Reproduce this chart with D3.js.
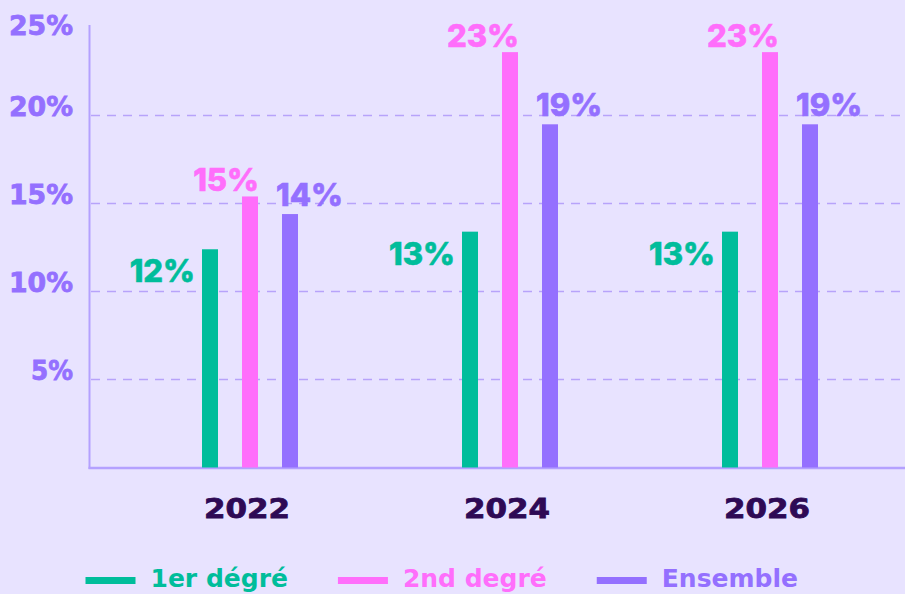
<!DOCTYPE html>
<html>
<head>
<meta charset="utf-8">
<script src="https://cdn.jsdelivr.net/npm/d3@7"></script>
<style>
  html, body { margin: 0; padding: 0; background: #e8e3ff; }
  svg { display: block; }
</style>
</head>
<body>
<div id="chart"></div>
<script>
// data
const years = ["2022", "2024", "2026"];
const series = ["1er dégré", "2nd degré", "Ensemble"];
const colors = ["#00bd9b", "#ff6efb", "#9470ff"];
const firstDegree = [12.4, 13.4, 13.4];
const secondDegree = [15.4, 23.6, 23.6];
const ensemble = [14.4, 19.5, 19.5];
const firstLabels = ["12%", "13%", "13%"];
const secondLabels = ["15%", "23%", "23%"];
const ensembleLabels = ["14%", "19%", "19%"];
const yTicks = [5, 10, 15, 20, 25];

const width = 905, height = 594;
const barWidth = 16;

let svg = d3.select("#chart").append("svg")
            .attr("width", width)
            .attr("height", height);

svg.append("rect")
   .attr("width", width)
   .attr("height", height)
   .attr("fill", "#e8e3ff");

let yScale = d3.scaleLinear()
               .domain([0, 25])
               .range([467.5, 27.5]);

let xScale = d3.scaleBand()
               .domain(years)
               .range([120, 900]);

let inner = d3.scalePoint()
              .domain(series)
              .range([-40, 40]);

let color = d3.scaleOrdinal().domain(series).range(colors);

// gridlines (no line at 25%)
svg.append("g")
   .selectAll("line")
   .data(yTicks.filter(d => d < 25))
   .enter()
   .append("line")
   .attr("x1", 91)
   .attr("x2", width)
   .attr("y1", d => yScale(d))
   .attr("y2", d => yScale(d))
   .attr("stroke", "#b7a3fa")
   .attr("stroke-width", 1.5)
   .attr("stroke-dasharray", "9,7");

// y axis line + baseline
svg.append("line")
   .attr("x1", 89.5).attr("x2", 89.5)
   .attr("y1", 25).attr("y2", 469)
   .attr("stroke", "#b4a1ff")
   .attr("stroke-width", 2);

svg.append("line")
   .attr("x1", 88.5).attr("x2", width)
   .attr("y1", yScale(0) + 0.5).attr("y2", yScale(0) + 0.5)
   .attr("stroke", "#b4a1ff")
   .attr("stroke-width", 2.5);

// y tick labels
svg.append("g")
   .selectAll("text")
   .data(yTicks)
   .enter()
   .append("text")
   .attr("x", 73)
   .attr("y", d => d === 25 ? yScale(d) + 7 : yScale(d))
   .attr("text-anchor", "end")
   .attr("fill", "#9470ff")
   .attr("stroke", "#9470ff")
   .attr("stroke-width", 0.8)
   .style("font-family", "'DejaVu Sans', sans-serif")
   .style("font-weight", 700)
   .style("font-size", "27px")
   .attr("textLength", d => d < 10 ? 42 : 64)
   .attr("lengthAdjust", "spacingAndGlyphs")
   .text(d => d + "%");

// bars
let rows = [];
years.forEach(function (y, i) {
    rows.push({year: y, key: series[0], val: firstDegree[i], label: firstLabels[i]});
    rows.push({year: y, key: series[1], val: secondDegree[i], label: secondLabels[i]});
    rows.push({year: y, key: series[2], val: ensemble[i], label: ensembleLabels[i]});
});

let cx = d => xScale(d.year) + xScale.bandwidth() / 2 + inner(d.key);

svg.append("g")
   .selectAll("rect")
   .data(rows)
   .enter()
   .append("rect")
   .attr("x", d => cx(d) - barWidth / 2)
   .attr("y", d => yScale(d.val))
   .attr("width", barWidth)
   .attr("height", d => yScale(0) - yScale(d.val))
   .attr("fill", d => color(d.key));

// value labels
svg.append("g")
   .selectAll("text")
   .data(rows)
   .enter()
   .append("text")
   .attr("x", function (d) {
       if (d.key === series[0]) return cx(d) - barWidth / 2 - 7;
       if (d.key === series[1]) return cx(d) + barWidth / 2 + 1;
       return cx(d) - barWidth / 2 - 6;
   })
   .attr("y", function (d) {
       if (d.key === series[0]) return yScale(d.val) + 33;
       if (d.key === series[1]) return yScale(d.val) - 5;
       return yScale(d.val) - 8;
   })
   .attr("text-anchor", d => d.key === series[2] ? "start" : "end")
   .attr("fill", d => color(d.key))
   .attr("stroke", d => color(d.key))
   .attr("stroke-width", 0.6)
   .style("font-family", "Inter, sans-serif")
   .style("font-weight", 800)
   .style("font-size", "31px")
   .text(d => d.label);

// year labels
svg.append("g")
   .selectAll("text")
   .data(years)
   .enter()
   .append("text")
   .attr("x", d => xScale(d) + xScale.bandwidth() / 2 - 3)
   .attr("y", 518)
   .attr("text-anchor", "middle")
   .attr("fill", "#2e0a55")
   .attr("stroke", "#2e0a55")
   .attr("stroke-width", 0.8)
   .style("font-family", "'DejaVu Sans', sans-serif")
   .style("font-weight", 700)
   .style("font-size", "27px")
   .attr("textLength", 86)
   .attr("lengthAdjust", "spacingAndGlyphs")
   .text(d => d);

// legend
let legend = svg.append("g");
let lx = 85.5;
series.forEach(function (s, i) {
    legend.append("rect")
          .attr("x", lx)
          .attr("y", 577)
          .attr("width", 50)
          .attr("height", 7)
          .attr("fill", colors[i]);
    let t = legend.append("text")
                  .attr("x", lx + 65)
                  .attr("y", 587)
                  .attr("fill", colors[i])
                  .style("font-family", "'DejaVu Sans', sans-serif")
                  .style("font-weight", 700)
                  .style("font-size", "25px")
                  .text(s);
    lx += 65 + t.node().getComputedTextLength() + 50;
});
</script>
</body>
</html>
